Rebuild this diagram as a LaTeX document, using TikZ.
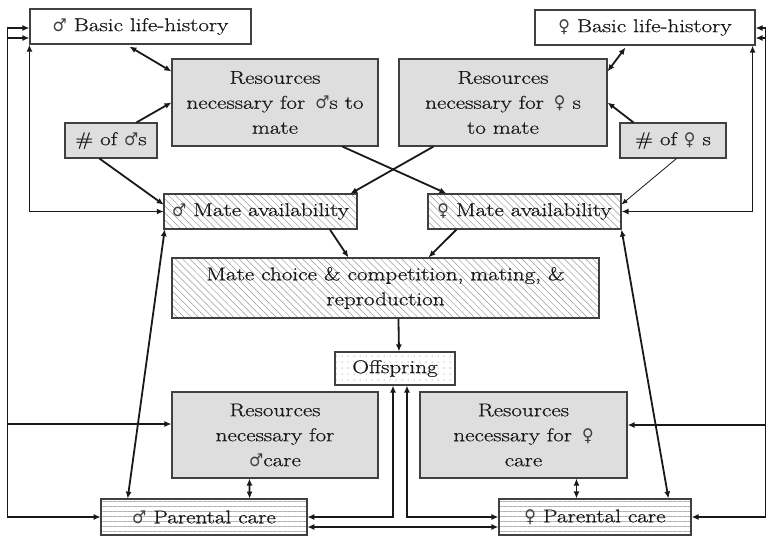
\documentclass[tikz,border=0pt]{standalone}
\usepackage{fontspec}
\setmainfont{Latin Modern Roman}[FakeStretch=1.25, FakeBold=0.6]
\newfontfamily\symf{DejaVu Sans}[Scale=0.95, FakeStretch=0.9]
\usetikzlibrary{arrows.meta,patterns.meta}
\newcommand{\msym}{{\color{black!75}\symf ♂}}
\newcommand{\fsym}{{\color{black!75}\symf ♀}}
\begin{document}
\begin{tikzpicture}[x=1pt,y=-1pt,
  every node/.style={font=\fontsize{18.5}{25}\selectfont, text=black!90, align=center, inner sep=0pt},
  box/.style={draw=black!75, line width=1.1pt},
  plainbox/.style={box, fill=white},
  greybox/.style={box, fill=black!13},
  hatchbox/.style={box, preaction={fill=white}, pattern={Lines[angle=-45,distance=5pt,line width=0.5pt]}, pattern color=black!40},
  dotbox/.style={box, preaction={fill=white}, pattern={Dots[distance=6pt,radius=0.5pt]}, pattern color=black!60},
  stripebox/.style={box, preaction={fill=white}, pattern={Lines[distance=5pt,line width=0.7pt]}, pattern color=black!30},
  tip/.tip={Latex[length=7pt,width=6pt]},
  link/.style={line width=1.8pt, draw=black!90, -tip},
  twoway/.style={line width=1.8pt, draw=black!90, tip-tip},
  thinlink/.style={line width=0.8pt, draw=black!90, -{Latex[length=6pt,width=5pt]}},
]
\fill[white] (0,0) rectangle (768,536);
\useasboundingbox (0,0) rectangle (768,536);

% boxes
\node[plainbox, minimum width=221pt, minimum height=35pt] (mBasic) at (140.5,26.5) {\msym\ Basic life-history};
\node[plainbox, minimum width=220pt, minimum height=35pt] (fBasic) at (645,27.5) {\fsym\ Basic life-history};
\node[greybox, minimum width=206pt, minimum height=87pt] (mRes) at (275,102.5) {Resources\\necessary for \,\msym s to\\mate};
\node[greybox, minimum width=208pt, minimum height=87pt] (fRes) at (503,102.5) {Resources\\necessary for \,\fsym\ s\\to mate};
\node[greybox, minimum width=92pt, minimum height=35pt] (mNum) at (111,140.5) {\# of \msym s};
\node[greybox, minimum width=106pt, minimum height=35pt] (fNum) at (673,140.5) {\# of \fsym\ s};
\node[hatchbox, minimum width=193pt, minimum height=35pt] (mAvail) at (260.5,211.5) {\msym\ Mate availability};
\node[hatchbox, minimum width=193pt, minimum height=35pt] (fAvail) at (524.5,211.5) {\fsym\ Mate availability};
\node[hatchbox, minimum width=427pt, minimum height=60pt] (mate) at (385.5,288) {Mate choice \& competition, mating, \&\\reproduction};
\node[dotbox, minimum width=120pt, minimum height=33pt] (off) at (395,368.5) {Offspring};
\node[greybox, minimum width=206pt, minimum height=86pt] (mResCare) at (275,435) {Resources\\necessary for\\\msym care};
\node[greybox, minimum width=207pt, minimum height=86pt] (fResCare) at (523.5,435) {Resources\\necessary for \,\fsym\\care};
\node[stripebox, minimum width=206pt, minimum height=36pt] (mCare) at (204,517) {\msym\ Parental care};
\node[stripebox, minimum width=192pt, minimum height=36pt] (fCare) at (595,517) {\fsym\ Parental care};

% upper connectors
\draw[twoway] ([xshift=100pt,yshift=-2pt]mBasic.south west) -- ([yshift=-13pt]mRes.north west);
\draw[link] ([xshift=72pt]mNum.north west) -- ([yshift=-44pt]mRes.north west);
\draw[link] ([xshift=35pt]mNum.south west) -- ([yshift=-11pt]mAvail.north west);
\draw[link] ([xshift=171pt]mRes.south west) -- ([xshift=19pt]fAvail.north west);
\draw[link] ([xshift=35pt]fRes.south west) -- ([xshift=-7pt]mAvail.north east);
\draw[twoway] ([xshift=91pt,yshift=-2pt]fBasic.south west) -- ([yshift=-13pt]fRes.north east);
\draw[link] ([xshift=14pt]fNum.north west) -- ([yshift=-44pt]fRes.north east);
\draw[thinlink] ([xshift=57pt]fNum.south west) -- ([yshift=-11pt]fAvail.north east);

% side loops
\draw[twoway] (mBasic.south west) |- (mAvail.west);
\draw[twoway] ([xshift=-3pt]fBasic.south east) |- (fAvail.east);
\draw[twoway] ([yshift=-1.5pt]mBasic.west) -- ++(-22,0) |- (mCare.west);
\draw[twoway] ([yshift=-11.5pt]mBasic.west) -- ++(-22,0) |- ([yshift=11pt]mResCare.west);
\draw[twoway] ([yshift=-0.5pt]fBasic.east) -- ++(10,0) |- ([yshift=10pt]fResCare.east);
\draw[twoway] ([yshift=-10.5pt]fBasic.east) -- ++(10,0) |- (fCare.east);

% middle connectors
\draw[twoway] ([xshift=1pt]mAvail.south west) -- ([xshift=27pt]mCare.north west);
\draw[twoway] (fAvail.south east) -- ([xshift=170pt]fCare.north west);
\draw[link] ([xshift=166pt]mAvail.south west) -- ([xshift=177pt]mate.north west);
\draw[link] ([xshift=29pt]fAvail.south west) -- ([xshift=257pt]mate.north west);
\draw[link] ([xshift=227pt]mate.south west) -- ([xshift=4pt]off.north);

% lower connectors
\draw[twoway] ([xshift=78pt]mResCare.south west) -- ([xshift=149pt]mCare.north west);
\draw[twoway] ([xshift=157pt]fResCare.south west) -- ([xshift=78pt]fCare.north west);
\draw[twoway] ([xshift=-2pt]off.south) |- (mCare.east);
\draw[twoway] ([xshift=12pt]off.south) |- (fCare.west);
\draw[twoway] ([yshift=-10pt]mCare.east) -- ([yshift=-10pt]fCare.west);
\end{tikzpicture}
\end{document}
